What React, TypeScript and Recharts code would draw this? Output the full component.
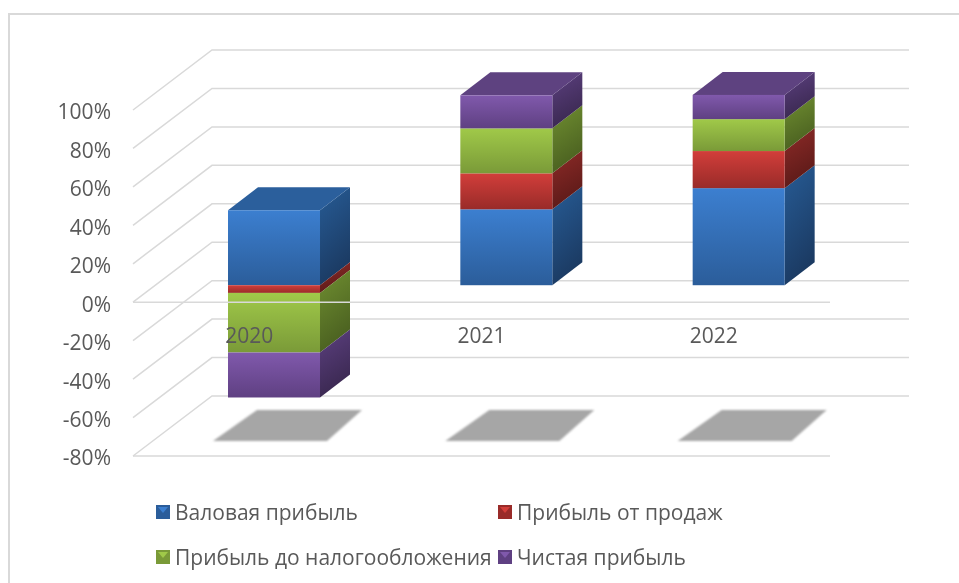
import React from 'react';
import { BarChart, Bar, XAxis, YAxis, CartesianGrid, Legend, ReferenceLine } from 'recharts';

const years = ['2020', '2021', '2022'];
const gross = [39, 39.5, 50.5];
const sales = [-4, 18.7, 19.3];
const pretax = [-31, 23.4, 16.6];
const net = [-23.4, 17.2, 12.6];
const yTicks = [-80, -60, -40, -20, 0, 20, 40, 60, 80, 100];

const rows = years.map((year, i) => ({ year, gross: gross[i], sales: sales[i], pretax: pretax[i], net: net[i] }));

const FONT = '"Open Sans", sans-serif';
const TEXT = '#595959';
const GRID = '#d9d9d9';

const palette: Record<string, { f1: string; f2: string; s1: string; s2: string; t: string }> = {
  gross: { f1: '#3c7fd0', f2: '#2b5d9a', s1: '#275c96', s2: '#1b3a62', t: '#2b5f9c' },
  sales: { f1: '#d23e3a', f2: '#992b29', s1: '#8e2b28', s2: '#5c1a18', t: '#8e2b28' },
  pretax: { f1: '#a0c949', f2: '#7a9a38', s1: '#708f31', s2: '#4a6020', t: '#708f31' },
  net: { f1: '#8059ac', f2: '#5f4082', s1: '#5c4080', s2: '#3a2850', t: '#5e4280' },
};
const order = ['gross', 'sales', 'pretax', 'net'];

const names: Record<string, string> = {
  gross: 'Валовая прибыль',
  sales: 'Прибыль от продаж',
  pretax: 'Прибыль до налогообложения',
  net: 'Чистая прибыль',
};

function Box3D(props: any) {
  const { x, y, width, height, dataKey, payload, index } = props;
  const key = String(dataKey);
  const c = palette[key];
  const fx = x + 25;
  const top = Math.min(y, y + height) - 17;
  const h = Math.abs(height);
  const dx = 30;
  const dy = 23;
  const positives = order.filter((k) => payload[k] > 0);
  const isTop = positives[positives.length - 1] === key;
  const fid = `f-${key}-${index}`;
  const sid = `s-${key}-${index}`;
  const r = x + width + 25;
  return (
    <g>
      <defs>
        <linearGradient id={fid} x1="0" y1="0" x2="0" y2="1">
          <stop offset="0" stopColor={c.f1} />
          <stop offset="1" stopColor={c.f2} />
        </linearGradient>
        <linearGradient id={sid} x1="0" y1="0" x2="0.3" y2="1">
          <stop offset="0" stopColor={c.s1} />
          <stop offset="1" stopColor={c.s2} />
        </linearGradient>
      </defs>
      {key === 'gross' && (
        <path
          d={`M ${x - 36 + width / 2} 441 L ${x + 78 + width / 2} 441 L ${x + 113 + width / 2} 410 L ${x + 8 + width / 2} 410 Z`}
          fill="#a6a6a6"
          style={{ filter: 'blur(1px)' }}
        />
      )}
      <path
        d={`M ${r} ${top} L ${r + dx} ${top - dy} L ${r + dx} ${top - dy + h} L ${r} ${top + h} Z`}
        fill={`url(#${sid})`}
      />
      {isTop && (
        <path
          d={`M ${fx} ${top} L ${fx + dx} ${top - dy} L ${r + dx} ${top - dy} L ${r} ${top} Z`}
          fill={c.t}
        />
      )}
      <rect x={fx} y={top} width={width} height={h} fill={`url(#${fid})`} />
    </g>
  );
}

function gridLine(p: any) {
  const { x1, x2, y1, index } = p;
  const isFloor = y1 > 450;
  return (
    <g key={`g-${index}-${y1}`}>
      <polyline
        points={`${x1},${y1} ${x1 + 79},${y1 - 60} 909,${y1 - 60}`}
        fill="none"
        stroke={GRID}
        strokeWidth={1.5}
      />
      {isFloor && <line x1={x1} y1={y1} x2={x2} y2={y1} stroke={GRID} strokeWidth={1.5} />}
    </g>
  );
}

function YearTick(p: any) {
  return (
    <text x={p.x} y={343} textAnchor="middle" fontFamily={FONT} fontSize={21} fill={TEXT}>
      {p.payload.value}
    </text>
  );
}

function Swatch({ k }: { k: string }) {
  const c = palette[k];
  return (
    <svg width={14} height={14} style={{ display: 'block' }}>
      <rect width={14} height={14} fill={c.f2} />
      <path d="M2 2 H12 L7 8 Z" fill={c.f1} />
    </svg>
  );
}

const legendSlots: Record<string, { left: number; top: number }> = {
  gross: { left: 156, top: 512 },
  sales: { left: 498, top: 512 },
  pretax: { left: 156, top: 557 },
  net: { left: 498, top: 557 },
};

function LegendBox(p: any) {
  const items: any[] = p.payload || [];
  return (
    <div style={{ position: 'absolute', left: 0, top: 0, width: 0, height: 0 }}>
      {items.map((it) => {
        const slot = legendSlots[String(it.dataKey)];
        return (
          <div
            key={String(it.dataKey)}
            style={{
              position: 'absolute',
              left: slot.left,
              top: slot.top - 15,
              height: 30,
              display: 'flex',
              alignItems: 'center',
              gap: 5,
              whiteSpace: 'nowrap',
              fontFamily: FONT,
              fontSize: 21,
              color: TEXT,
            }}
          >
            <Swatch k={String(it.dataKey)} />
            <span>{it.value}</span>
          </div>
        );
      })}
    </div>
  );
}

export default function App() {
  return (
    <div style={{ position: 'absolute', left: 0, top: 0, width: 959, height: 583, background: '#fff', overflow: 'hidden', filter: 'blur(0.5px)' }}>
      <div style={{ position: 'absolute', left: 8, top: 13, width: 951, height: 570, borderLeft: '2px solid #d9d9d9', borderTop: '2px solid #d9d9d9', boxSizing: 'border-box' }} />
      <div style={{ position: 'absolute', left: 0, top: 0 }}>
        <BarChart
          width={959}
          height={583}
          data={rows}
          stackOffset="sign"
          barSize={92}
          margin={{ top: 110, right: 129, bottom: 97, left: 0 }}
        >
          <CartesianGrid vertical={false} horizontal={gridLine as any} />
          <YAxis
            width={133}
            domain={[-80, 100]}
            ticks={yTicks}
            interval={0}
            tickFormatter={(v: number) => `${v}%`}
            axisLine={false}
            tickLine={false}
            tickSize={0}
            tickMargin={22}
            tick={{ fontFamily: FONT, fontSize: 21, fill: TEXT, dy: 2 }}
          />
          <Legend content={LegendBox as any} wrapperStyle={{ position: 'absolute', left: 0, top: 0, width: 0, height: 0 }} />
          {order.map((k) => (
            <Bar key={k} dataKey={k} name={names[k]} stackId="a" fill={palette[k].f1} isAnimationActive={false} shape={Box3D as any} />
          ))}
          <ReferenceLine y={0} stroke={GRID} strokeWidth={1.5} />
          <XAxis dataKey="year" height={30} axisLine={false} tickLine={false} interval={0} tick={YearTick as any} />
        </BarChart>
      </div>
    </div>
  );
}
